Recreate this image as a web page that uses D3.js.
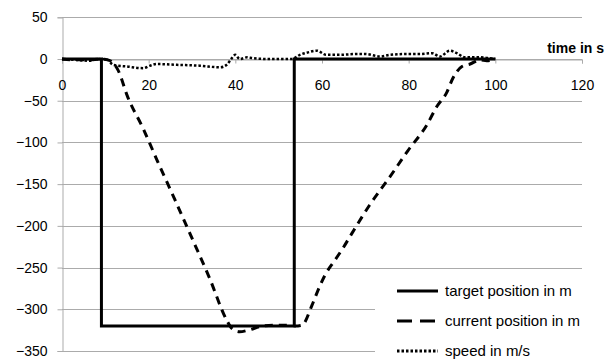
<!DOCTYPE html>
<html><head><meta charset="utf-8">
<script src="https://cdn.jsdelivr.net/npm/d3@7"></script>
<style>body{margin:0;background:#fff}svg{display:block}text{font-family:"Liberation Sans",Arial,sans-serif}</style>
</head><body>
<script>
const xTicks = [0, 20, 40, 60, 80, 100, 120];
const yTicks = [50, 0, -50, -100, -150, -200, -250, -300, -350];
const seriesNames = ["target position in m", "current position in m", "speed in m/s"];
const targetT = [0, 9.1, 9.1, 53.6, 53.6, 100];
const targetV = [0, 0, -320, -320, 0, 0];
const currentT = [0, 3, 6, 9, 10.6, 12.9, 15.2, 18.7, 22, 26, 30.7, 34, 38, 39.2, 41, 43, 46.4, 49.6, 52.6, 53.8, 55.4, 57.7, 59.1, 60.7, 63, 64.8, 66.9, 71, 75.7, 79.8, 84.2, 86.5, 88.8, 90.2, 92.3, 94.2, 96.5, 98, 100];
const currentV = [0, -1, -1, 0, -1, -13, -46, -83, -122, -168, -223, -262, -313, -323, -327, -325, -320, -319, -319, -320, -319, -295, -277, -259, -241, -227, -209, -175, -141, -110, -79, -57, -40, -23, -9, -6, -1, -2, 0];
const speedT = [0, 3, 6, 9, 10.5, 11.8, 15, 18.7, 20.3, 21.9, 26.5, 31.8, 36.5, 38, 39.2, 40, 41, 42.7, 44, 48, 53, 54.9, 56.8, 58.8, 61, 64, 68, 70, 73.4, 75.7, 79.6, 82.6, 85.4, 87.2, 89.5, 91.1, 93, 96.5, 98.8, 100];
const speedV = [0, -1, -2, 0, -1, -7, -9, -11, -8, -6, -7, -8, -10, -7, 1, 5, 0, 2, 1, 0, 0, 5, 8, 10, 5, 5, 6, 6, 3, 5, 6, 6, 7, 3, 10, 7, 2, 2, 1, 0];

const W = 615, H = 363;
const svg = d3.select("body").append("svg").attr("width", W).attr("height", H);
const x = d3.scaleLinear().domain([0, 120]).range([62, 582]);
const y = d3.scaleLinear().domain([-350, 50]).range([351, 17.3]);
const grid = "#ababab";
const font = "'Liberation Sans', Arial, sans-serif";

// gridlines
svg.append("g").selectAll("line").data(yTicks).join("line")
  .attr("x1", x(0)).attr("x2", d => (d <= -300 ? 375 : x(120)))
  .attr("y1", d => Math.round(y(d)) + 0.5).attr("y2", d => Math.round(y(d)) + 0.5)
  .attr("stroke", grid).attr("stroke-width", 1);

// y axis
const yAxis = svg.append("g").attr("transform", `translate(${x(0) + 0.5},0)`)
  .call(d3.axisLeft(y).tickValues(yTicks).tickSize(5).tickPadding(10).tickFormat(d3.format("d")));
yAxis.select(".domain").attr("stroke", grid);
yAxis.selectAll(".tick line").attr("stroke", grid);
yAxis.selectAll(".tick text").attr("font-size", 14).attr("fill", "#000").style("font-family", font);

// x axis at y=0
const xAxis = svg.append("g").attr("transform", `translate(0,${Math.round(y(0)) + 0.5})`)
  .call(d3.axisBottom(x).tickValues(xTicks).tickSize(4).tickPadding(17).tickFormat(d3.format("d")));
xAxis.select(".domain").attr("stroke", grid);
xAxis.selectAll(".tick line").attr("stroke", grid);
xAxis.selectAll(".tick text").attr("font-size", 14).attr("fill", "#000").style("font-family", font);

svg.append("text").attr("x", 604).attr("y", 53).attr("text-anchor", "end")
  .attr("font-size", 14).attr("font-weight", "bold").text("time in s");

const zip = (a, b) => a.map((t, i) => [t, b[i]]);

svg.append("path").datum(zip(speedT, speedV))
  .attr("d", d3.line().x(d => x(d[0])).y(d => y(d[1])).curve(d3.curveMonotoneX))
  .attr("fill", "none").attr("stroke", "#000").attr("stroke-width", 2.5).attr("stroke-dasharray", "2.5,2");
svg.append("path").datum(zip(targetT, targetV))
  .attr("d", d3.line().x(d => x(d[0])).y(d => y(d[1])))
  .attr("fill", "none").attr("stroke", "#000").attr("stroke-width", 3).attr("stroke-linejoin", "miter");
svg.append("path").datum(zip(currentT, currentV))
  .attr("d", d3.line().x(d => x(d[0])).y(d => y(d[1])).curve(d3.curveMonotoneX))
  .attr("fill", "none").attr("stroke", "#000").attr("stroke-width", 3).attr("stroke-dasharray", "8,6");

// legend
const lg = svg.append("g");
const styles = [null, "15,8", "2.5,2"];
seriesNames.forEach((n, i) => {
  const yy = 291 + i * 30;
  lg.append("line").attr("x1", 397).attr("x2", 438).attr("y1", yy).attr("y2", yy)
    .attr("stroke", "#000").attr("stroke-width", 3).attr("stroke-dasharray", styles[i]);
  lg.append("text").attr("x", 445).attr("y", yy + 5).attr("font-size", 15).text(n);
});
</script>
</body></html>
